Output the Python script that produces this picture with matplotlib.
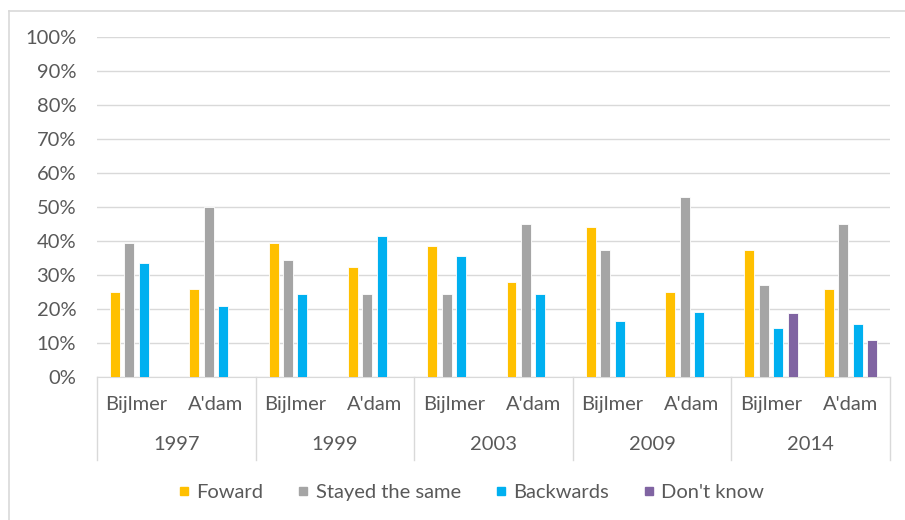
import matplotlib
matplotlib.use('Agg')
import matplotlib.pyplot as plt
from matplotlib.lines import Line2D
import numpy as np

plt.rcParams['font.family'] = ['Lato', 'DejaVu Sans']

years = ['1997', '1999', '2003', '2009', '2014']
places = ['Bijlmer', "A'dam"]
series = ['Foward', 'Stayed the same', 'Backwards', "Don't know"]
colors = ['#FFC000', '#A5A5A5', '#00B0F0', '#8064A2']

# one value per (year, place): Bijlmer, A'dam, Bijlmer, A'dam, ...
foward = [25, 26, 39.5, 32.5, 38.5, 28, 44, 25, 37.5, 26]
stayed = [39.5, 50, 34.5, 24.5, 24.5, 45, 37.5, 53, 27, 45]
backwards = [33.5, 21, 24.5, 41.5, 35.5, 24.5, 16.5, 19, 14.5, 15.5]
dont_know = [np.nan] * 8 + [18.8, 11]

values = [foward, stayed, backwards, dont_know]
text_col = '#595959'
grid_col = '#D9D9D9'
fs = 14.5

fig = plt.figure(figsize=(9.05, 5.2), dpi=100)
ax = fig.add_axes([97 / 905, 1 - 377 / 520, (890 - 97) / 905, 340 / 520])

x = np.arange(len(foward))
step = 0.182
width = 0.126
for k, (vals, col) in enumerate(zip(values, colors)):
    ax.bar(x + (k - 1.5) * step, vals, width, color=col, zorder=3,
           edgecolor='white', linewidth=0.6)

ax.set_xlim(-0.5, len(x) - 0.5)
ax.set_ylim(0, 100)
ax.set_yticks(np.arange(0, 101, 10))
ax.set_yticklabels([f'{v}%' for v in range(0, 101, 10)])
ax.tick_params(axis='y', length=0, pad=15, labelsize=fs, labelcolor=text_col)
ax.set_xticks([])
ax.grid(axis='y', color=grid_col, linewidth=1, zorder=0)
for s in ['top', 'right', 'left']:
    ax.spines[s].set_visible(False)
ax.spines['bottom'].set_color(grid_col)

tr = ax.get_xaxis_transform()
for i in x:
    ax.text(i, -0.082, places[i % 2], transform=tr, ha='center', va='center',
            fontsize=fs, color=text_col)
for j, yr in enumerate(years):
    ax.text(2 * j + 0.5, -0.2, yr, transform=tr, ha='center', va='center',
            fontsize=fs, color=text_col)
for b in np.arange(-0.5, len(x), 2):
    ax.plot([b, b], [0, -0.244], transform=tr, color=grid_col, linewidth=1,
            clip_on=False)

handles = [Line2D([], [], marker='s', linestyle='', markersize=6,
                  markerfacecolor=c, markeredgecolor=c) for c in colors]
fig.legend(handles, series, loc='center', bbox_to_anchor=(470 / 905, 1 - 492 / 520),
           ncol=4, frameon=False, fontsize=fs, labelcolor=text_col,
           handletextpad=0.2, columnspacing=1.6, handlelength=0.8)

# chart border (top and left visible)
fig.add_artist(Line2D([9 / 905, 1], [1 - 11 / 520, 1 - 11 / 520], color=grid_col, linewidth=1.2))
fig.add_artist(Line2D([9 / 905, 9 / 905], [0, 1 - 11 / 520], color=grid_col, linewidth=1.2))

fig.savefig('out.png', dpi=100)
